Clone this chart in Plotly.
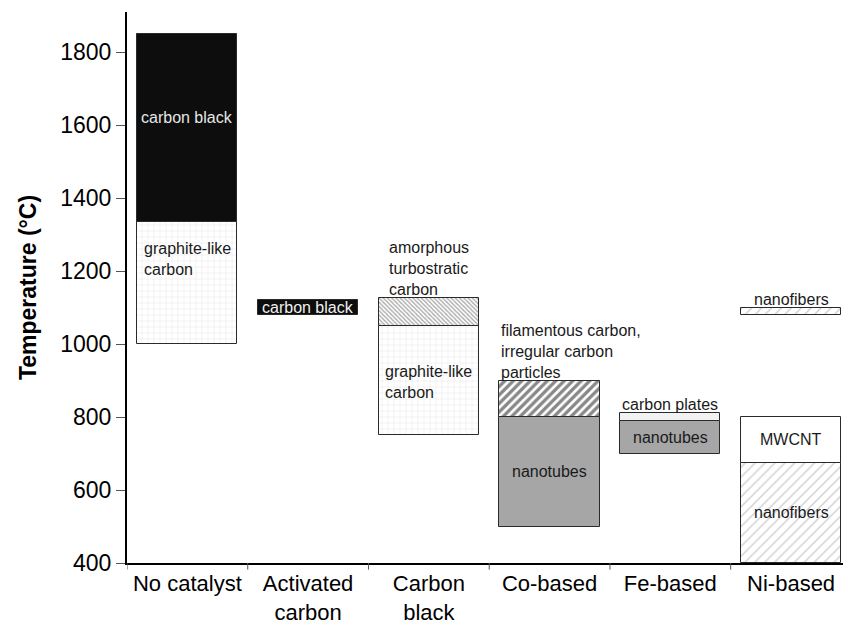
import plotly.graph_objects as go

# ---- data ----
categories = ["No catalyst", "Activated<br>carbon", "Carbon<br>black", "Co-based", "Fe-based", "Ni-based"]
seg_cat = [0, 0, 1, 2, 2, 3, 3, 4, 4, 5, 5, 5]
seg_low = [1000, 1335, 1080, 750, 1050, 500, 800, 700, 790, 400, 675, 1080]
seg_high = [1335, 1850, 1120, 1050, 1125, 800, 900, 790, 810, 675, 800, 1100]
seg_kind = ["graphite", "cblack", "cblack", "graphite", "amorph", "tubes", "filam",
            "tubes", "plates", "fibers", "mwcnt", "fibers"]
seg_text = ["graphite-like<br>carbon", "carbon black", "carbon black", "graphite-like<br>carbon",
            "amorphous<br>turbostratic<br>carbon", "nanotubes",
            "filamentous carbon,<br>irregular carbon<br>particles",
            "nanotubes", "carbon plates", "nanofibers", "MWCNT", "nanofibers"]
y_ticks = [400, 600, 800, 1000, 1200, 1400, 1600, 1800]

# ---- styles ----
FONT = "Liberation Sans, Arial, sans-serif"
styles = {
    "graphite": dict(color="white", pattern=dict(shape="+", fgcolor="#bdbdbd", bgcolor="white", size=6, solidity=0.12)),
    "cblack": dict(color="#0d0d0d"),
    "amorph": dict(color="white", pattern=dict(shape="\\", fgcolor="#555555", bgcolor="white", size=3, solidity=0.45)),
    "tubes": dict(color="#a6a6a6"),
    "filam": dict(color="white", pattern=dict(shape="/", fgcolor="#111111", bgcolor="white", size=6, solidity=0.55)),
    "plates": dict(color="#f2f2f2"),
    "fibers": dict(color="white", pattern=dict(shape="/", fgcolor="#a0a0a0", bgcolor="white", size=7, solidity=0.2)),
    "mwcnt": dict(color="white"),
}
# label placement: (mode, y, color)
label_place = [
    ("in", 1232, "#1a1a1a"),
    ("in", 1620, "#e6e6e6"),
    ("in", None, "#f0f0f0"),
    ("in", 895, "#1a1a1a"),
    ("above", None, "#1a1a1a"),
    ("in", None, "#1a1a1a"),
    ("aboveleft", None, "#1a1a1a"),
    ("in", None, "#1a1a1a"),
    ("above", None, "#1a1a1a"),
    ("in", None, "#1a1a1a"),
    ("in", None, "#1a1a1a"),
    ("above", None, "#1a1a1a"),
]
LBL = 16

BAR_W = 0.83
fig = go.Figure()
for i in range(len(seg_cat)):
    st = styles[seg_kind[i]]
    marker = dict(color=st["color"], line=dict(color="#2a2a2a", width=1))
    if "pattern" in st:
        marker["pattern"] = st["pattern"]
    fig.add_trace(go.Bar(
        x=[seg_cat[i]], y=[seg_high[i] - seg_low[i]], base=[seg_low[i]],
        width=BAR_W, marker=marker, showlegend=False, hoverinfo="skip",
    ))

for i in range(len(seg_cat)):
    mode, ly, col = label_place[i]
    if mode == "in":
        y = ly if ly is not None else (seg_low[i] + seg_high[i]) / 2
        fig.add_annotation(x=seg_cat[i], y=y, text=seg_text[i], showarrow=False,
                           xanchor="center", yanchor="middle", align="left",
                           font=dict(family=FONT, size=LBL, color=col))
    elif mode == "above":
        fig.add_annotation(x=seg_cat[i], y=seg_high[i], text=seg_text[i], showarrow=False,
                           xanchor="center", yanchor="bottom", align="left", yshift=-2,
                           font=dict(family=FONT, size=LBL, color=col))
    else:
        fig.add_annotation(x=seg_cat[i] - BAR_W / 2, y=seg_high[i], text=seg_text[i], showarrow=False,
                           xanchor="left", yanchor="bottom", align="left", yshift=-2,
                           font=dict(family=FONT, size=LBL, color=col))

fig.update_layout(
    width=843, height=625,
    margin=dict(l=127, r=0, t=12, b=60),
    paper_bgcolor="white", plot_bgcolor="white",
    barmode="overlay", bargap=0,
    font=dict(family=FONT, color="black"),
    xaxis=dict(
        range=[-0.5, 5.43], tickmode="array", tickvals=list(range(6)), ticktext=categories,
        showline=True, linecolor="black", linewidth=2, showgrid=False, zeroline=False,
        ticks="", tickfont=dict(family=FONT, size=22, color="black"),
    ),
    yaxis=dict(
        range=[400, 1910], tickmode="array", tickvals=y_ticks,
        showline=True, linecolor="black", linewidth=2, showgrid=False, zeroline=False,
        ticks="outside", ticklen=9, tickcolor="#555555", tickwidth=1,
        tickfont=dict(family=FONT, size=23, color="black"),
        title=dict(text="<b>Temperature (°C)</b>", font=dict(family=FONT, size=23, color="black"), standoff=17),
    ),
)
# category boundary tick marks on the x axis
for b in [-0.5, 0.5, 1.5, 2.5, 3.5, 4.5]:
    fig.add_shape(type="line", xref="x", yref="paper", x0=b, x1=b, y0=0, y1=-0.012,
                  line=dict(color="#555555", width=1))

fig.write_html("out.html")
